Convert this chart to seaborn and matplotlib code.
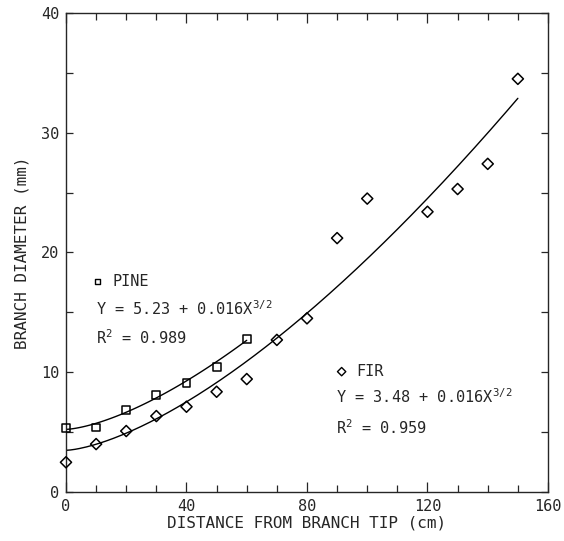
import numpy as np
import pandas as pd
import seaborn as sns
import matplotlib.pyplot as plt
from matplotlib.ticker import MultipleLocator

pine_x = [0, 10, 20, 30, 40, 50, 60]
pine_y = [5.37, 5.38, 6.85, 8.10, 9.12, 10.46, 12.75]
fir_x = [0, 10, 20, 30, 40, 50, 60, 70, 80, 90, 100, 120, 130, 140, 150]
fir_y = [2.48, 4.00, 5.09, 6.34, 7.12, 8.37, 9.43, 12.7, 14.5, 21.2, 24.5,
         23.4, 25.3, 27.4, 34.5]

# fitted curves Y = a + b * X^(3/2), coefficients printed on the chart
pine_a, pine_b, pine_r2 = 5.23, 0.016, 0.989
fir_a, fir_b, fir_r2 = 3.48, 0.016, 0.959

x_ticks = [0, 40, 80, 120, 160]
y_ticks = [0, 10, 20, 30, 40]

sns.set_style("ticks")
plt.rcParams['font.family'] = ['DejaVu Sans Mono', 'DejaVu Sans']
plt.rcParams['mathtext.fontset'] = 'custom'
plt.rcParams['mathtext.rm'] = 'DejaVu Sans Mono'
plt.rcParams['mathtext.it'] = 'DejaVu Sans Mono'

pts = pd.concat([
    pd.DataFrame({'x': pine_x, 'y': pine_y, 'species': 'PINE'}),
    pd.DataFrame({'x': fir_x, 'y': fir_y, 'species': 'FIR'}),
])

xp = np.linspace(0, max(pine_x), 100)
xf = np.linspace(0, max(fir_x), 200)
curves = pd.concat([
    pd.DataFrame({'x': xp, 'y': pine_a + pine_b * xp ** 1.5, 'species': 'PINE'}),
    pd.DataFrame({'x': xf, 'y': fir_a + fir_b * xf ** 1.5, 'species': 'FIR'}),
])

fig = plt.figure(figsize=(5.64, 5.41), dpi=100)
ax = fig.add_axes([0.117, 0.0906, 0.8546, 0.8854])

sns.lineplot(data=curves, x='x', y='y', units='species', estimator=None,
             color='black', lw=1.0, ax=ax)
sns.scatterplot(data=pts, x='x', y='y', style='species',
                markers={'PINE': 's', 'FIR': 'D'}, s=32,
                facecolor='none', edgecolor='black', linewidth=1.1,
                legend=False, ax=ax, clip_on=False, zorder=5)

ax.set_xlim(0, 160)
ax.set_ylim(0, 40)
ax.set_xticks(x_ticks)
ax.set_yticks(y_ticks)
ax.xaxis.set_minor_locator(MultipleLocator(10))
ax.yaxis.set_minor_locator(MultipleLocator(5))
ax.tick_params(which='both', direction='in', top=True, right=True,
               labelsize=11, width=0.9, pad=5)
ax.tick_params(axis='x', which='major', length=7)
ax.tick_params(axis='x', which='minor', length=5)
ax.tick_params(axis='y', which='both', length=5)
for s in ax.spines.values():
    s.set_linewidth(1.0)

ax.set_xlabel('DISTANCE FROM BRANCH TIP (cm)', fontsize=11.5, labelpad=1)
ax.set_ylabel('BRANCH DIAMETER (mm)', fontsize=11.5, labelpad=8)

# annotations
fs = 11
ax.scatter([10.5], [17.6], marker='s', s=14, facecolor='none',
           edgecolor='black', linewidth=1.0)
ax.text(15.5, 17.6, 'PINE', fontsize=fs, va='center')
ax.text(10, 15.3, r'Y = 5.23 + 0.016X$^{\mathregular{3/2}}$', fontsize=fs, va='center')
ax.text(10, 12.9, r'R$^{\mathregular{2}}$ = 0.989', fontsize=fs, va='center')

ax.scatter([91.5], [10.05], marker='D', s=18, facecolor='none',
           edgecolor='black', linewidth=1.0)
ax.text(96.5, 10.05, 'FIR', fontsize=fs, va='center')
ax.text(89.5, 7.95, r'Y = 3.48 + 0.016X$^{\mathregular{3/2}}$', fontsize=fs, va='center')
ax.text(89.5, 5.4, r'R$^{\mathregular{2}}$ = 0.959', fontsize=fs, va='center')

fig.savefig('out.png', dpi=100)
